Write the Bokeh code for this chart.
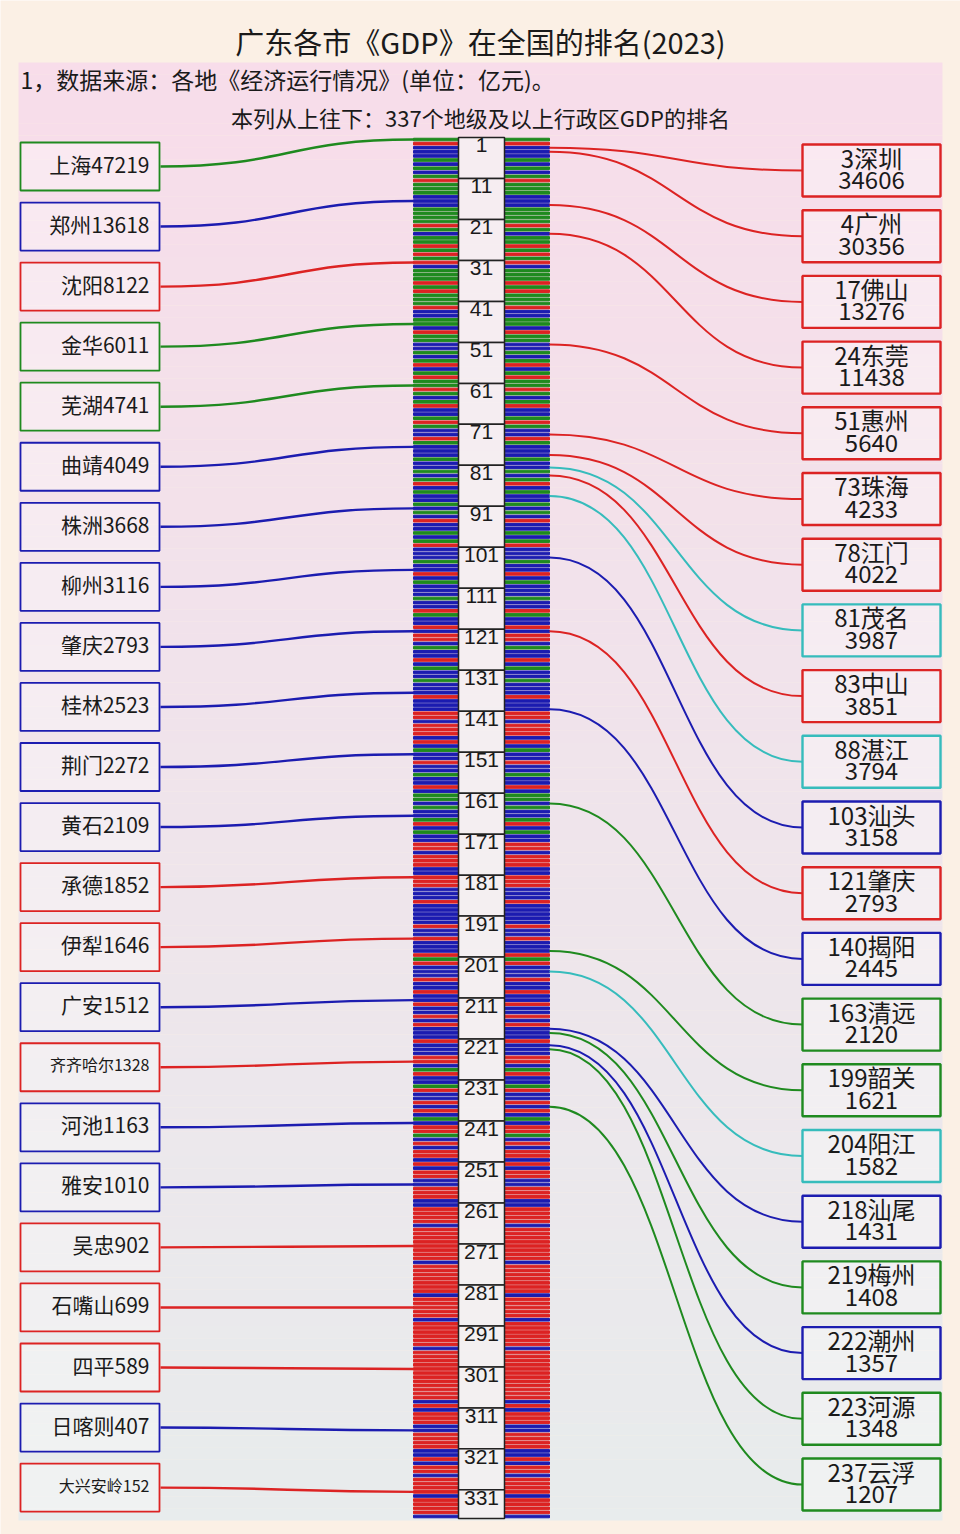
import re
import numpy as np
from bokeh.plotting import figure
from bokeh.models import Range1d, Label, ColumnDataSource
from bokeh.core.properties import value
from bokeh.embed import file_html
from bokeh.resources import INLINE

# ---------------- data ----------------
title_text = "广东各市《GDP》在全国的排名(2023)"
note1 = "1，数据来源：各地《经济运行情况》(单位：亿元)。"
note2 = "本列从上往下：337个地级及以上行政区GDP的排名"

# left: sample of cities across the whole ranking
left_names = ["上海", "郑州", "沈阳", "金华", "芜湖", "曲靖", "株洲", "柳州", "肇庆", "桂林",
              "荆门", "黄石", "承德", "伊犁", "广安", "齐齐哈尔", "河池", "雅安", "吴忠", "石嘴山",
              "四平", "日喀则", "大兴安岭"]
left_gdp = [47219, 13618, 8122, 6011, 4741, 4049, 3668, 3116, 2793, 2523,
            2272, 2109, 1852, 1646, 1512, 1328, 1163, 1010, 902, 699,
            589, 407, 152]
left_rank = [1, 16, 31, 46, 61, 76, 91, 106, 121, 136,
             151, 166, 181, 196, 211, 226, 241, 256, 271, 286,
             301, 316, 331]
left_region = ["G", "B", "R", "G", "G", "B", "B", "B", "B", "B",
               "B", "B", "R", "R", "B", "R", "B", "B", "R", "R",
               "R", "B", "R"]

# right: Guangdong cities
gd_names = ["深圳", "广州", "佛山", "东莞", "惠州", "珠海", "江门", "茂名", "中山", "湛江",
            "汕头", "肇庆", "揭阳", "清远", "韶关", "阳江", "汕尾", "梅州", "潮州", "河源", "云浮"]
gd_rank = [3, 4, 17, 24, 51, 73, 78, 81, 83, 88,
           103, 121, 140, 163, 199, 204, 218, 219, 222, 223, 237]
gd_gdp = [34606, 30356, 13276, 11438, 5640, 4233, 4022, 3987, 3851, 3794,
          3158, 2793, 2445, 2120, 1621, 1582, 1431, 1408, 1357, 1348, 1207]
gd_area = ["PRD", "PRD", "PRD", "PRD", "PRD", "PRD", "PRD", "WEST", "PRD", "WEST",
           "EAST", "PRD", "EAST", "NORTH", "NORTH", "WEST", "EAST", "NORTH", "EAST", "NORTH", "NORTH"]

# region of every rank 1..337 (G = east, R = north, B = central/south/west)
rank_region_bands = [
    "GRBBBGBGBG", "RGGGBBBGGG", "GRGBGGRGRG", "RBGGGRGRGG", "GRBBGGBRGG",
    "BBGBGRBGRG", "GRGBGRBBGR", "GBBRGBBBGB", "BGBGRBGBBG", "BGBRBBGBGR",
    "BBBGBBRBGB", "BBGBBRGBBR", "BRRBGBBRBG", "BBGBBBRBBB", "RRBRRRBRBG",
    "BBRBBGBBRB", "GGBGBBGRBG", "BBRRBRRRBB", "RRRBBBRBBB", "BBRBBRBBBR",
    "GRBBBRBBRB", "BRBBRBRBBB", "RBBBRRBGRB", "BGRBBRBRBG", "BRRGBRBRRB",
    "RBRRBBRRRB", "BRRRRBRRRR", "RRRRBRRRRR", "RRBRRRRRBR", "RRRRRBRRRR",
    "RRRRRRRRBR", "BRRRBBRRRR", "BBRBRRBRRR", "RBRRRRB",
]
rank_region = "".join(rank_region_bands)
n_total = len(rank_region)  # 337

cell_labels = [1, 11, 21, 31, 41, 51, 61, 71, 81, 91, 101, 111, 121, 131, 141, 151, 161,
               171, 181, 191, 201, 211, 221, 231, 241, 251, 261, 271, 281, 291, 301, 311,
               321, 331]

# ---------------- style ----------------
RED, GREEN, BLUE, CYAN = "#dc2323", "#1f8a1f", "#1c1cb0", "#36bcbc"
region_color = {"R": RED, "G": GREEN, "B": BLUE}
area_color = {"PRD": RED, "WEST": CYAN, "EAST": BLUE, "NORTH": GREEN}
FONT = "Noto Sans CJK SC"
CREAM = "#fbf0e5"

W, H = 960, 1534
TOP_PX, PX_PER_RANK = 137.0, 4.098


def Y(px):
    return (px - TOP_PX) / PX_PER_RANK


p = figure(width=W, height=H, x_range=Range1d(0, W), y_range=Range1d(Y(H), Y(0)),
           x_axis_type=None, y_axis_type=None, toolbar_location=None, output_backend="svg",
           min_border=0, background_fill_color=CREAM, border_fill_color=CREAM)
p.outline_line_color = None
p.grid.visible = False

# background panel gradient
nb = 120
edges = np.linspace(62, 1520, nb + 1)
c_top = np.array([248, 221, 234])
c_bot = np.array([232, 236, 237])
cols = []
for i in range(nb):
    t = i / (nb - 1)
    c = (c_top * (1 - t) + c_bot * t).astype(int)
    cols.append("#%02x%02x%02x" % tuple(c))
p.quad(left=18, right=942, top=[Y(e) for e in edges[:-1]], bottom=[Y(e) + 0.02 for e in edges[1:]],
       fill_color=cols, line_color=None)

# stripes
ranks = np.arange(1, n_total + 1)
stripe_src = ColumnDataSource(dict(y=ranks - 0.5, color=[region_color[c] for c in rank_region]))
p.hbar(y="y", left=413, right=458, height=0.64, color="color", source=stripe_src)
p.hbar(y="y", left=504, right=549, height=0.64, color="color", source=stripe_src)

# middle column cells
tops = [c - 1 for c in cell_labels]
bots = [min(c + 9, n_total) for c in cell_labels]
p.quad(left=458, right=504, top=tops, bottom=bots, fill_color="#f6f1f3", fill_alpha=0.75,
       line_color="#222222", line_width=1.5)
p.text(x=481, y=[t + 0.2 for t in tops], text=[str(c) for c in cell_labels], text_align="center",
       text_baseline="top", text_font=value("Liberation Sans"), text_font_size=value("21px"),
       text_color="#1a1a1a")

# left boxes
nl = len(left_names)
lc = [Y(166 + i * 60.05) for i in range(nl)]
lsrc = ColumnDataSource(dict(
    yc=lc, yt=[y - 3 / PX_PER_RANK for y in lc],
    top=[y - 24 / PX_PER_RANK for y in lc], bot=[y + 24 / PX_PER_RANK for y in lc],
    yr=[r - 0.5 for r in left_rank], color=[region_color[r] for r in left_region],
    label=[f"{n}{g}" for n, g in zip(left_names, left_gdp)],
    fs=["16px" if len(n) >= 4 else "21px" for n in left_names],
))
p.bezier(x0=160, y0="yc", x1=413, y1="yr", cx0=287, cy0="yc", cx1=287, cy1="yr",
         line_color="color", line_width=2.4, source=lsrc)
p.quad(left=20, right=159, top="top", bottom="bot", fill_color="#ffffff", fill_alpha=0.35,
       line_color="color", line_width=1.8, source=lsrc)
p.text(x=149, y="yt", text="label", text_align="right", text_baseline="middle",
       text_font=value(FONT), text_font_size="fs", text_color="#1a1a1a", source=lsrc)

# right boxes
nr = len(gd_names)
rc = [Y(170 + j * 65.7) for j in range(nr)]
rsrc = ColumnDataSource(dict(
    yc=rc, top=[y - 26 / PX_PER_RANK for y in rc], bot=[y + 26 / PX_PER_RANK for y in rc],
    y1=[y - 13.5 / PX_PER_RANK for y in rc], y2=[y + 9.5 / PX_PER_RANK for y in rc],
    yr=[r - 0.5 for r in gd_rank], color=[area_color[a] for a in gd_area],
    l1=[f"{r}{n}" for r, n in zip(gd_rank, gd_names)], l2=[str(g) for g in gd_gdp],
))
p.bezier(x0=549, y0="yr", x1=802, y1="yc", cx0=675, cy0="yr", cx1=675, cy1="yc",
         line_color="color", line_width=2.0, source=rsrc)
p.quad(left=802, right=940, top="top", bottom="bot", fill_color="#ffffff", fill_alpha=0.35,
       line_color="color", line_width=2.4, source=rsrc)
for col, ycol in (("l1", "y1"), ("l2", "y2")):
    p.text(x=871, y=ycol, text=col, text_align="center", text_baseline="middle",
           text_font=value(FONT), text_font_size=value("24px"), text_color="#1a1a1a", source=rsrc)

# titles
p.add_layout(Label(x=480, y=Y(40), text=title_text, text_align="center", text_baseline="middle",
                   text_font=FONT, text_font_size="29px", text_color="#1a1a1a"))
p.add_layout(Label(x=20, y=Y(78), text=note1, text_align="left", text_baseline="middle",
                   text_font=FONT, text_font_size="23px", text_color="#1a1a1a"))
p.add_layout(Label(x=480, y=Y(116), text=note2, text_align="center", text_baseline="middle",
                   text_font=FONT, text_font_size="22px", text_color="#1a1a1a"))

html = file_html(p, INLINE, title="广东各市GDP排名")
html = re.sub(r"<body([^>]*)>", r'<body\1 style="background-color:%s;">' % CREAM, html, count=1)
open("out.html", "w").write(html)
